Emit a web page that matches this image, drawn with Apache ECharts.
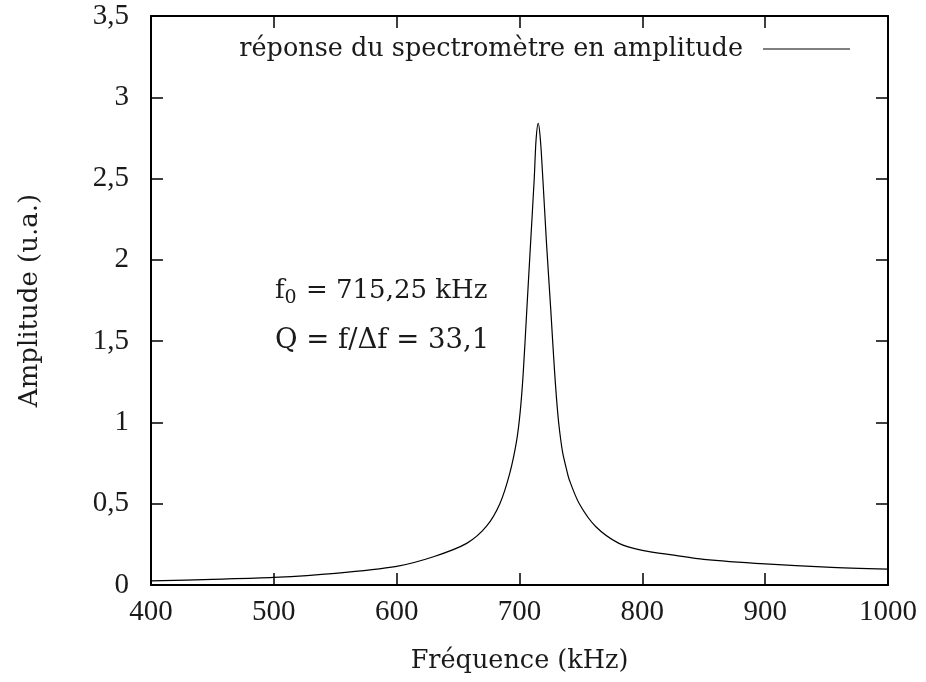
<!DOCTYPE html>
<html>
<head>
<meta charset="utf-8">
<script src="https://cdn.jsdelivr.net/npm/echarts@6/dist/echarts.min.js"></script>
<style>html,body{margin:0;padding:0;background:#fff}#c{width:926px;height:682px}</style>
</head>
<body>
<div id="c"></div>
<script>
// Frequencies (kHz) and amplitudes (u.a.)
const freqs = [400, 450, 500, 550, 600, 630, 657, 673, 684, 692, 697.5, 700.5, 703, 706, 709, 712, 713.5, 715.25, 717, 719, 722, 725.4, 727, 728.5, 730, 732, 735, 738, 740.6, 748.7, 762, 781, 800, 827, 850, 900, 950, 1000];
const amps  = [0.025, 0.035, 0.047, 0.072, 0.115, 0.174, 0.256, 0.36, 0.50, 0.685, 0.88, 1.06, 1.30, 1.70, 2.10, 2.50, 2.74, 2.84, 2.74, 2.50, 2.10, 1.70, 1.50, 1.32, 1.16, 0.99, 0.82, 0.72, 0.646, 0.50, 0.36, 0.256, 0.213, 0.182, 0.158, 0.13, 0.11, 0.098];
const xTicks = [400, 500, 600, 700, 800, 900, 1000];
const yTicks = [0, 0.5, 1, 1.5, 2, 2.5, 3, 3.5];
const seriesName = 'réponse du spectromètre en amplitude';
const annotation1 = ['f', '0', ' = 715,25 kHz'];
const annotation2 = 'Q = f/Δf = 33,1';

const NUMFONT = 'Liberation Serif';
const FONT = 'DejaVu Serif';
const INK = '#1a1a1a';
const fmtY = v => String(v).replace('.', ',');
const chart = echarts.init(document.getElementById('c'));
const tick = {show: true, inside: true, length: 12, lineStyle: {color: '#000', width: 1.5}};
const line = {show: true, onZero: false, lineStyle: {color: '#000', width: 2}};
chart.setOption({
  backgroundColor: '#fff',
  animation: false,
  grid: {left: 151, right: 38, top: 16, bottom: 97, containLabel: false},
  legend: {
    right: 71, top: 31, align: 'right', itemWidth: 87, itemHeight: 1.2, itemGap: 0,
    icon: 'rect',
    textStyle: {fontFamily: FONT, fontSize: 25.5, color: INK, padding: [0, 15, 0, 0]},
    data: [{name: seriesName, itemStyle: {color: '#000'}}]
  },
  xAxis: [{
    type: 'value', min: 400, max: 1000, interval: 100,
    name: 'Fréquence (kHz)', nameLocation: 'middle', nameGap: 63,
    nameTextStyle: {fontFamily: FONT, fontSize: 25.5, color: INK},
    axisLine: line, axisTick: tick, splitLine: {show: false},
    axisLabel: {fontFamily: NUMFONT, fontSize: 29, color: INK, margin: 13,
      formatter: v => xTicks.includes(v) ? String(v) : ''}
  }, {
    type: 'value', position: 'top', min: 400, max: 1000, interval: 100,
    axisLine: line, axisTick: tick, axisLabel: {show: false}, splitLine: {show: false}
  }],
  yAxis: [{
    type: 'value', min: 0, max: 3.5, interval: 0.5,
    name: 'Amplitude (u.a.)', nameLocation: 'middle', nameGap: 108,
    nameTextStyle: {fontFamily: FONT, fontSize: 26, color: INK},
    axisLine: line, axisTick: tick, splitLine: {show: false},
    axisLabel: {fontFamily: NUMFONT, fontSize: 29, color: INK, margin: 22,
      formatter: v => yTicks.includes(v) ? fmtY(v) : ''}
  }, {
    type: 'value', position: 'right', min: 0, max: 3.5, interval: 0.5,
    axisLine: line, axisTick: tick, axisLabel: {show: false}, splitLine: {show: false}
  }],
  graphic: [{
    type: 'text', left: 275, top: 278,
    style: {
      text: '{a|' + annotation1[0] + '}{s|' + annotation1[1] + '}{a|' + annotation1[2] + '}',
      rich: {
        a: {fontFamily: FONT, fontSize: 26, fill: INK},
        s: {fontFamily: FONT, fontSize: 19, fill: INK, verticalAlign: 'bottom', padding: [14, 1, 0, 0]}
      }
    }
  }, {
    type: 'text', left: 275, top: 327,
    style: {text: annotation2, fontFamily: FONT, fontSize: 27.5, fill: INK}
  }],
  series: [{
    name: seriesName, type: 'line', xAxisIndex: 0, yAxisIndex: 0,
    data: freqs.map((f, i) => [f, amps[i]]),
    showSymbol: false, symbol: 'none', smooth: 0.3,
    lineStyle: {color: '#000', width: 1.2}, itemStyle: {color: '#000'}
  }]
});
</script>
</body>
</html>
